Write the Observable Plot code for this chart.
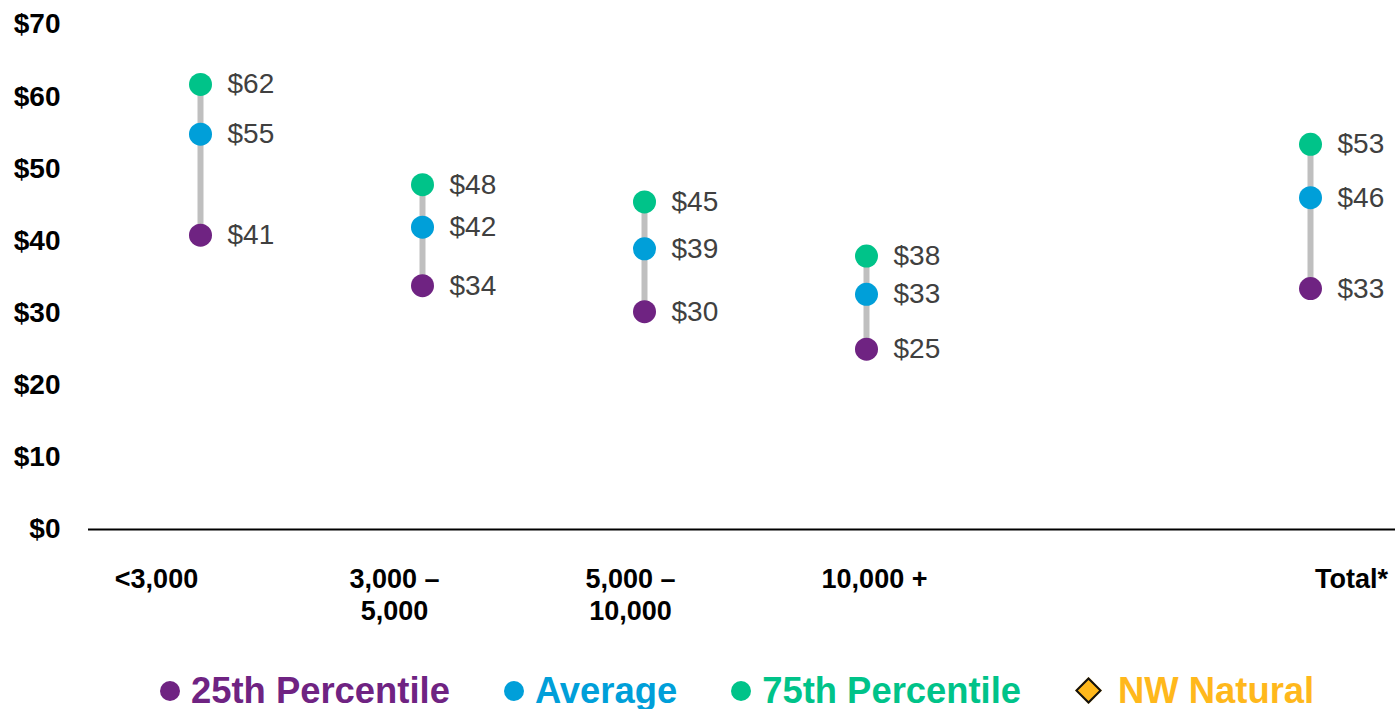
<!DOCTYPE html>
<html>
<head>
<meta charset="utf-8">
<script src="https://cdn.jsdelivr.net/npm/d3@7"></script>
<script src="https://cdn.jsdelivr.net/npm/@observablehq/plot@0.6"></script>
<style>
  html, body { margin: 0; padding: 0; background: #fff; overflow: hidden; }
  body { width: 1395px; height: 709px; font-family: "Liberation Sans", Arial, sans-serif; }
  #legend { display: flex; align-items: center; padding-left: 160px; padding-top: 22px; height: 37px; line-height: 37px; font-size: 36.4px; font-weight: bold; white-space: nowrap; }
  .item { display: flex; align-items: center; margin-right: 54px; }
  .dot { width: 20px; height: 20px; border-radius: 50%; margin-right: 11px; }
  .diamond { width: 15px; height: 15px; transform: rotate(45deg); border: 2.5px solid #111; margin: 0 20px 0 4px; }
</style>
</head>
<body>
<div id="chart"></div>
<div id="legend"></div>
<script>
// ---- data ----
const categories = ["<3,000", "3,000 –\n5,000", "5,000 –\n10,000", "10,000 +", "Total*"];
const slots = ["<3,000", "3,000 –\n5,000", "5,000 –\n10,000", "10,000 +", "", "Total*"];
const p25 = [40.8, 33.8, 30.2, 25.0, 33.4];
const avg = [54.8, 41.9, 38.9, 32.6, 46.0];
const p75 = [61.7, 47.8, 45.4, 37.9, 53.4];
const yTicks = [0, 10, 20, 30, 40, 50, 60, 70];
const seriesNames = ["25th Percentile", "Average", "75th Percentile", "NW Natural"];

// ---- styles / layout ----
const colors = {p25: "#6f2382", avg: "#009fd9", p75: "#00c389", nw: "#ffb81c"};
const labelNudge = [-44, -28, -14, 8, 41];

const rows = categories.map((c, i) => ({cat: c, p25: p25[i], avg: avg[i], p75: p75[i]}));
const fmt = v => "$" + Math.round(v);

const catLabelMarks = categories.map((c, i) =>
  Plot.text([c], {x: d => d, y: () => 0, dx: labelNudge[i], dy: 35, lineAnchor: "top",
    lineHeight: 1.2, fontSize: 27, fontWeight: "bold", fill: "#000", text: d => d})
);

const valueLabels = ["p25", "avg", "p75"].map(k =>
  Plot.text(rows, {x: "cat", y: k, text: d => fmt(d[k]), dx: 27, textAnchor: "start",
    fontSize: 28, fill: "#404040"})
);

const chart = Plot.plot({
  width: 1395,
  height: 650,
  marginLeft: 88,
  marginRight: 0,
  marginTop: 24,
  marginBottom: 121,
  style: {fontFamily: "'Liberation Sans', Arial, sans-serif", background: "#fff", overflow: "visible"},
  x: {type: "band", domain: slots, range: [89, 1421], padding: 0, axis: null},
  y: {domain: [0, 70], axis: null},
  marks: [
    Plot.axisY({ticks: yTicks, tickSize: 0, tickPadding: 28, tickFormat: d => "$" + d,
      fontSize: 28, fontWeight: "bold", fill: "#000", label: null}),
    Plot.ruleY([0], {stroke: "#000", strokeWidth: 2}),
    Plot.ruleX(rows, {x: "cat", y1: "p25", y2: "p75", stroke: "#bfbfbf", strokeWidth: 6}),
    Plot.dot(rows, {x: "cat", y: "p25", r: 11.5, fill: colors.p25}),
    Plot.dot(rows, {x: "cat", y: "avg", r: 11.5, fill: colors.avg}),
    Plot.dot(rows, {x: "cat", y: "p75", r: 11.5, fill: colors.p75}),
    ...valueLabels,
    ...catLabelMarks
  ]
});
document.getElementById("chart").appendChild(chart);

// ---- legend ----
const legendColors = [colors.p25, colors.avg, colors.p75, colors.nw];
const legend = document.getElementById("legend");
seriesNames.forEach((name, i) => {
  const item = document.createElement("div");
  item.className = "item";
  const m = document.createElement("div");
  if (i === 3) { m.className = "diamond"; m.style.background = legendColors[i]; }
  else { m.className = "dot"; m.style.background = legendColors[i]; }
  const t = document.createElement("span");
  t.textContent = name;
  t.style.color = legendColors[i];
  item.appendChild(m); item.appendChild(t);
  legend.appendChild(item);
});
</script>
</body>
</html>
